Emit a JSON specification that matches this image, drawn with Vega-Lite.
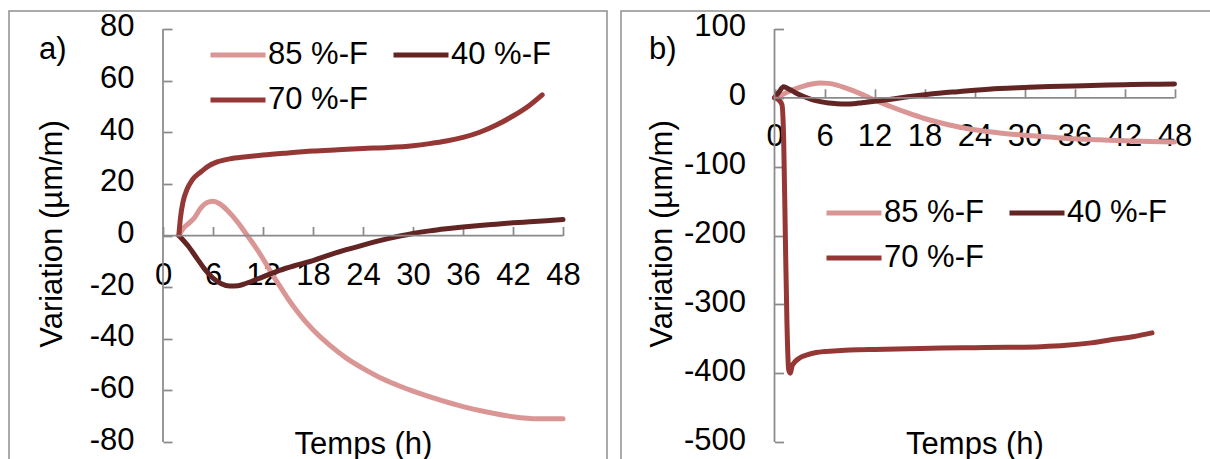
{
  "$schema": "https://vega.github.io/schema/vega-lite/v6.json",
  "padding": {"left": 8, "top": 10, "right": 0, "bottom": 0},
  "background": "white",
  "spacing": 12,
  "config": {
    "font": "Liberation Sans",
    "view": {"stroke": "#8e8e8e", "strokeWidth": 1.5},
    "axis": {"grid": false, "domain": false, "tickSize": -9, "tickColor": "#8a8a8a", "tickWidth": 1.75,
      "labelFontSize": 31, "labelColor": "black", "labelFont": "Liberation Sans", "labelExpr": "'' + datum.value",
      "titleFontSize": 31, "titleFontWeight": "normal", "titleColor": "black", "titleFont": "Liberation Sans"},
    "legend": {"orient": "none", "columns": 2, "direction": "horizontal", "title": null, "symbolType": "stroke", "symbolSize": 3025, "symbolStrokeWidth": 5,
      "labelFontSize": 31, "labelFont": "Liberation Sans", "labelColor": "black", "labelOffset": 0, "columnPadding": 15, "rowPadding": 0, "padding": 0, "labelLimit": 300}
  },
  "datasets": {
    "d": [
      {"p":"a","s":"85 %-F","t":1.9,"v":0},{"p":"a","s":"85 %-F","t":2.5,"v":3},{"p":"a","s":"85 %-F","t":3.2,"v":5},{"p":"a","s":"85 %-F","t":3.8,"v":7},{"p":"a","s":"85 %-F","t":4.5,"v":10.5},{"p":"a","s":"85 %-F","t":5.3,"v":12.8},{"p":"a","s":"85 %-F","t":6,"v":13.3},{"p":"a","s":"85 %-F","t":6.8,"v":12.3},{"p":"a","s":"85 %-F","t":7.8,"v":9.5},{"p":"a","s":"85 %-F","t":9,"v":5},{"p":"a","s":"85 %-F","t":10,"v":0.5},{"p":"a","s":"85 %-F","t":11,"v":-4},{"p":"a","s":"85 %-F","t":12,"v":-9},{"p":"a","s":"85 %-F","t":13,"v":-14.5},{"p":"a","s":"85 %-F","t":14,"v":-19.5},{"p":"a","s":"85 %-F","t":15,"v":-24.5},{"p":"a","s":"85 %-F","t":16,"v":-29},{"p":"a","s":"85 %-F","t":17,"v":-33},{"p":"a","s":"85 %-F","t":18,"v":-36.5},{"p":"a","s":"85 %-F","t":20,"v":-42.5},{"p":"a","s":"85 %-F","t":22,"v":-47.5},{"p":"a","s":"85 %-F","t":24,"v":-51.5},{"p":"a","s":"85 %-F","t":26,"v":-55},{"p":"a","s":"85 %-F","t":28,"v":-57.8},{"p":"a","s":"85 %-F","t":30,"v":-60.3},{"p":"a","s":"85 %-F","t":33,"v":-63.5},{"p":"a","s":"85 %-F","t":36,"v":-66.3},{"p":"a","s":"85 %-F","t":39,"v":-68.5},{"p":"a","s":"85 %-F","t":42,"v":-70.2},{"p":"a","s":"85 %-F","t":45,"v":-71},{"p":"a","s":"85 %-F","t":48,"v":-71},
      {"p":"a","s":"40 %-F","t":1.9,"v":0},{"p":"a","s":"40 %-F","t":3,"v":-4},{"p":"a","s":"40 %-F","t":4,"v":-8.5},{"p":"a","s":"40 %-F","t":5,"v":-13},{"p":"a","s":"40 %-F","t":6,"v":-16.5},{"p":"a","s":"40 %-F","t":7,"v":-18.7},{"p":"a","s":"40 %-F","t":8,"v":-19.6},{"p":"a","s":"40 %-F","t":9,"v":-19.5},{"p":"a","s":"40 %-F","t":10,"v":-18.5},{"p":"a","s":"40 %-F","t":12,"v":-16},{"p":"a","s":"40 %-F","t":14,"v":-13.5},{"p":"a","s":"40 %-F","t":16,"v":-11.5},{"p":"a","s":"40 %-F","t":18,"v":-9.7},{"p":"a","s":"40 %-F","t":20,"v":-7.5},{"p":"a","s":"40 %-F","t":22,"v":-5.5},{"p":"a","s":"40 %-F","t":24,"v":-3.7},{"p":"a","s":"40 %-F","t":26,"v":-2},{"p":"a","s":"40 %-F","t":28,"v":-0.5},{"p":"a","s":"40 %-F","t":30,"v":0.8},{"p":"a","s":"40 %-F","t":32,"v":1.8},{"p":"a","s":"40 %-F","t":34,"v":2.6},{"p":"a","s":"40 %-F","t":36,"v":3.3},{"p":"a","s":"40 %-F","t":38,"v":3.9},{"p":"a","s":"40 %-F","t":40,"v":4.4},{"p":"a","s":"40 %-F","t":42,"v":4.9},{"p":"a","s":"40 %-F","t":44,"v":5.3},{"p":"a","s":"40 %-F","t":46,"v":5.7},{"p":"a","s":"40 %-F","t":48,"v":6.2},
      {"p":"a","s":"70 %-F","t":1.9,"v":0},{"p":"a","s":"70 %-F","t":2.1,"v":7},{"p":"a","s":"70 %-F","t":2.4,"v":13},{"p":"a","s":"70 %-F","t":2.9,"v":18},{"p":"a","s":"70 %-F","t":3.5,"v":21.5},{"p":"a","s":"70 %-F","t":4.5,"v":24.5},{"p":"a","s":"70 %-F","t":5.5,"v":27},{"p":"a","s":"70 %-F","t":6.5,"v":28.5},{"p":"a","s":"70 %-F","t":8,"v":29.7},{"p":"a","s":"70 %-F","t":10,"v":30.5},{"p":"a","s":"70 %-F","t":12,"v":31.2},{"p":"a","s":"70 %-F","t":15,"v":32},{"p":"a","s":"70 %-F","t":18,"v":32.7},{"p":"a","s":"70 %-F","t":21,"v":33.2},{"p":"a","s":"70 %-F","t":24,"v":33.7},{"p":"a","s":"70 %-F","t":27,"v":34.1},{"p":"a","s":"70 %-F","t":30,"v":34.8},{"p":"a","s":"70 %-F","t":32,"v":35.6},{"p":"a","s":"70 %-F","t":34,"v":36.6},{"p":"a","s":"70 %-F","t":36,"v":38},{"p":"a","s":"70 %-F","t":38,"v":40},{"p":"a","s":"70 %-F","t":40,"v":42.8},{"p":"a","s":"70 %-F","t":42,"v":46.3},{"p":"a","s":"70 %-F","t":44,"v":50.5},{"p":"a","s":"70 %-F","t":45.5,"v":54.5},
      {"p":"b","s":"85 %-F","t":0,"v":0},{"p":"b","s":"85 %-F","t":0.7,"v":3},{"p":"b","s":"85 %-F","t":1.5,"v":8},{"p":"b","s":"85 %-F","t":2.5,"v":13},{"p":"b","s":"85 %-F","t":3.5,"v":17},{"p":"b","s":"85 %-F","t":4.5,"v":20},{"p":"b","s":"85 %-F","t":5.5,"v":21.5},{"p":"b","s":"85 %-F","t":6.5,"v":21},{"p":"b","s":"85 %-F","t":7.5,"v":18.5},{"p":"b","s":"85 %-F","t":8.5,"v":14.5},{"p":"b","s":"85 %-F","t":9.5,"v":10},{"p":"b","s":"85 %-F","t":10.5,"v":5},{"p":"b","s":"85 %-F","t":11.5,"v":-0.5},{"p":"b","s":"85 %-F","t":12.5,"v":-5.5},{"p":"b","s":"85 %-F","t":14,"v":-13},{"p":"b","s":"85 %-F","t":16,"v":-22},{"p":"b","s":"85 %-F","t":18,"v":-30},{"p":"b","s":"85 %-F","t":20,"v":-36.5},{"p":"b","s":"85 %-F","t":22,"v":-42},{"p":"b","s":"85 %-F","t":24,"v":-46.5},{"p":"b","s":"85 %-F","t":27,"v":-51},{"p":"b","s":"85 %-F","t":30,"v":-54.5},{"p":"b","s":"85 %-F","t":33,"v":-57},{"p":"b","s":"85 %-F","t":36,"v":-59.5},{"p":"b","s":"85 %-F","t":39,"v":-61},{"p":"b","s":"85 %-F","t":42,"v":-62.5},{"p":"b","s":"85 %-F","t":45,"v":-63.5},{"p":"b","s":"85 %-F","t":48,"v":-64},
      {"p":"b","s":"40 %-F","t":0,"v":0},{"p":"b","s":"40 %-F","t":0.5,"v":8},{"p":"b","s":"40 %-F","t":1.1,"v":16},{"p":"b","s":"40 %-F","t":1.7,"v":13},{"p":"b","s":"40 %-F","t":2.5,"v":7.5},{"p":"b","s":"40 %-F","t":3.5,"v":2},{"p":"b","s":"40 %-F","t":4.5,"v":-2.5},{"p":"b","s":"40 %-F","t":5.5,"v":-5.5},{"p":"b","s":"40 %-F","t":6.5,"v":-7.5},{"p":"b","s":"40 %-F","t":7.5,"v":-8.5},{"p":"b","s":"40 %-F","t":8.5,"v":-9},{"p":"b","s":"40 %-F","t":9.5,"v":-8.5},{"p":"b","s":"40 %-F","t":10.5,"v":-7},{"p":"b","s":"40 %-F","t":12,"v":-5},{"p":"b","s":"40 %-F","t":14,"v":-2},{"p":"b","s":"40 %-F","t":16,"v":1.5},{"p":"b","s":"40 %-F","t":18,"v":4.5},{"p":"b","s":"40 %-F","t":20,"v":7},{"p":"b","s":"40 %-F","t":22,"v":9},{"p":"b","s":"40 %-F","t":24,"v":11},{"p":"b","s":"40 %-F","t":27,"v":13.5},{"p":"b","s":"40 %-F","t":30,"v":15},{"p":"b","s":"40 %-F","t":33,"v":16.3},{"p":"b","s":"40 %-F","t":36,"v":17.3},{"p":"b","s":"40 %-F","t":39,"v":18.2},{"p":"b","s":"40 %-F","t":42,"v":19},{"p":"b","s":"40 %-F","t":45,"v":19.6},{"p":"b","s":"40 %-F","t":48,"v":20},
      {"p":"b","s":"70 %-F","t":0,"v":0},{"p":"b","s":"70 %-F","t":0.5,"v":-3},{"p":"b","s":"70 %-F","t":0.9,"v":-10},{"p":"b","s":"70 %-F","t":1.1,"v":-60},{"p":"b","s":"70 %-F","t":1.3,"v":-200},{"p":"b","s":"70 %-F","t":1.5,"v":-330},{"p":"b","s":"70 %-F","t":1.7,"v":-395},{"p":"b","s":"70 %-F","t":1.9,"v":-400},{"p":"b","s":"70 %-F","t":2.1,"v":-390},{"p":"b","s":"70 %-F","t":2.5,"v":-383},{"p":"b","s":"70 %-F","t":3,"v":-378},{"p":"b","s":"70 %-F","t":4,"v":-373},{"p":"b","s":"70 %-F","t":5,"v":-370},{"p":"b","s":"70 %-F","t":6,"v":-368.5},{"p":"b","s":"70 %-F","t":8,"v":-367},{"p":"b","s":"70 %-F","t":10,"v":-366},{"p":"b","s":"70 %-F","t":12,"v":-365.5},{"p":"b","s":"70 %-F","t":16,"v":-364.5},{"p":"b","s":"70 %-F","t":20,"v":-363.5},{"p":"b","s":"70 %-F","t":24,"v":-363},{"p":"b","s":"70 %-F","t":28,"v":-362.5},{"p":"b","s":"70 %-F","t":32,"v":-361.5},{"p":"b","s":"70 %-F","t":35,"v":-359.5},{"p":"b","s":"70 %-F","t":38,"v":-356},{"p":"b","s":"70 %-F","t":41,"v":-350.5},{"p":"b","s":"70 %-F","t":43,"v":-347},{"p":"b","s":"70 %-F","t":45.3,"v":-341.5}
    ]
  },
  "hconcat": [
    {
      "width": 598, "height": 449,
      "title": {"text": "a)", "anchor": "start", "frame": "group", "orient": "top", "offset": -79, "dx": 30, "baseline": "alphabetic", "fontSize": 31, "fontWeight": "normal", "font": "Liberation Sans", "color": "black"},
      "layer": [
        {
          "data": {"name": "d"},
          "transform": [{"filter": "datum.p === 'a'"}],
          "mark": {"type": "line", "strokeWidth": 5, "interpolate": "monotone", "strokeCap": "round", "strokeJoin": "round"},
          "encoding": {
            "x": {"field": "t", "type": "quantitative", "scale": {"domain": [-18.48, 53.28], "nice": false, "zero": false},
              "axis": {"values": [0, 6, 12, 18, 24, 30, 36, 42, 48], "offset": -224.5, "labelPadding": 57.5, "labelBaseline": "alphabetic",
                "title": "Temps (h)", "titleX": 354, "titleY": 217.5, "titleAlign": "center", "titleBaseline": "alphabetic"}},
            "y": {"field": "v", "type": "quantitative", "scale": {"domain": [-86.973, 86.973], "nice": false, "zero": false},
              "axis": {"values": [-80, -60, -40, -20, 0, 20, 40, 60, 80], "offset": -154, "labelPadding": 38, "labelOffset": -2,
                "title": "Variation (µm/m)", "titleX": -102, "titleY": 222.5, "titleAngle": -90, "titleAlign": "center", "titleBaseline": "alphabetic"}},
            "color": {"field": "s", "type": "nominal", "scale": {"domain": ["85 %-F", "40 %-F", "70 %-F"], "range": ["#D99694", "#632523", "#953735"]},
              "legend": {"legendX": 199, "legendY": 14}},
            "order": {"field": "t", "type": "quantitative"}
          }
        },
        {
          "data": {"values": [{}]},
          "mark": {"type": "rule", "color": "#8a8a8a", "strokeWidth": 1.75},
          "encoding": {
            "x": {"datum": 0, "type": "quantitative"},
            "y": {"datum": -80, "type": "quantitative"},
            "y2": {"datum": 80}
          }
        },
        {
          "data": {"values": [{}]},
          "mark": {"type": "rule", "color": "#8a8a8a", "strokeWidth": 1.75},
          "encoding": {
            "x": {"datum": 0, "type": "quantitative"},
            "x2": {"datum": 48},
            "y": {"datum": 0, "type": "quantitative"}
          }
        }
      ]
    },
    {
      "width": 592, "height": 449,
      "title": {"text": "b)", "anchor": "start", "frame": "group", "orient": "top", "offset": -79, "dx": 28, "baseline": "alphabetic", "fontSize": 31, "fontWeight": "normal", "font": "Liberation Sans", "color": "black"},
      "layer": [
        {
          "data": {"name": "d"},
          "transform": [{"filter": "datum.p === 'b'"}],
          "mark": {"type": "line", "strokeWidth": 5, "interpolate": "monotone", "strokeCap": "round", "strokeJoin": "round"},
          "encoding": {
            "x": {"field": "t", "type": "quantitative", "scale": {"domain": [-18.42, 52.62], "nice": false, "zero": false},
              "axis": {"values": [0, 6, 12, 18, 24, 30, 36, 42, 48], "offset": -362.2, "labelPadding": 57, "labelBaseline": "alphabetic",
                "title": "Temps (h)", "titleX": 353.5, "titleY": 355.2, "titleAlign": "center", "titleBaseline": "alphabetic"}},
            "y": {"field": "v", "type": "quantitative", "scale": {"domain": [-526.15, 126.15], "nice": false, "zero": false},
              "axis": {"values": [-500, -400, -300, -200, -100, 0, 100], "offset": -153.5, "labelPadding": 38, "labelOffset": -2,
                "title": "Variation (µm/m)", "titleX": -103, "titleY": 222.5, "titleAngle": -90, "titleAlign": "center", "titleBaseline": "alphabetic"}},
            "color": {"field": "s", "type": "nominal", "scale": {"domain": ["85 %-F", "40 %-F", "70 %-F"], "range": ["#D99694", "#632523", "#953735"]},
              "legend": {"legendX": 203, "legendY": 172}},
            "order": {"field": "t", "type": "quantitative"}
          }
        },
        {
          "data": {"values": [{}]},
          "mark": {"type": "rule", "color": "#8a8a8a", "strokeWidth": 1.75},
          "encoding": {
            "x": {"datum": 0, "type": "quantitative"},
            "y": {"datum": -500, "type": "quantitative"},
            "y2": {"datum": 100}
          }
        },
        {
          "data": {"values": [{}]},
          "mark": {"type": "rule", "color": "#8a8a8a", "strokeWidth": 1.75},
          "encoding": {
            "x": {"datum": 0, "type": "quantitative"},
            "x2": {"datum": 48},
            "y": {"datum": 0, "type": "quantitative"}
          }
        }
      ]
    }
  ],
  "resolve": {"scale": {"color": "independent"}, "legend": {"color": "independent"}}
}
